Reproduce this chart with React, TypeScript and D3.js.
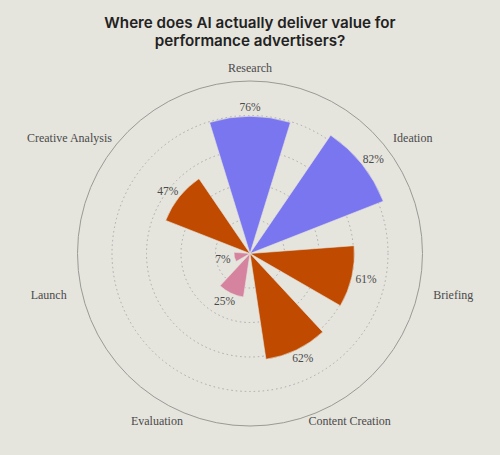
import { useEffect, useRef } from 'react'
import * as d3 from 'd3'

// categories clockwise from 12 o'clock
const categories = ['Research', 'Ideation', 'Briefing', 'Content Creation', 'Evaluation', 'Launch', 'Creative Analysis']
// radial length of each petal (percent)
const values = [79.5, 83, 60.5, 62, 25.5, 9.3, 52.5]
// printed value labels
const valueLabels = ['76%', '82%', '61%', '62%', '25%', '7%', '47%']
const groups = ['ai', 'ai', 'core', 'core', 'low', 'low', 'core']
const gridTicks = [20, 40, 60, 80]

const COLORS: Record<string, string> = { ai: '#7a76f0', core: '#bf4a00', low: '#d6839f' }
const BG = '#e5e4dd'

export default function App() {
  const ref = useRef<SVGSVGElement>(null)

  useEffect(() => {
    document.body.style.margin = '0'
    document.body.style.background = BG
    const svg = d3.select(ref.current!)
    svg.selectAll('*').remove()
    const W = 500, H = 455
    const cx = 250, cy = 253.5, R = 172.5
    const slot = (2 * Math.PI) / categories.length
    const r = d3.scaleLinear().domain([0, 100]).range([0, R])

    svg.append('rect').attr('width', W).attr('height', H).attr('fill', BG)

    // title
    const title = svg.append('text').attr('x', cx).attr('text-anchor', 'middle')
      .attr('font-family', 'Inter, sans-serif').attr('font-weight', 600).attr('font-size', 15.2).attr('fill', '#222')
    title.append('tspan').attr('x', cx).attr('y', 27.5).text('Where does AI actually deliver value for')
    title.append('tspan').attr('x', cx).attr('y', 45.5).text('performance advertisers?')

    const g = svg.append('g').attr('transform', `translate(${cx},${cy})`)

    // grid rings
    g.selectAll('circle.grid').data(gridTicks).join('circle').attr('class', 'grid')
      .attr('r', d => r(d)).attr('fill', 'none').attr('stroke', '#aaa').attr('stroke-width', 1)
      .attr('stroke-dasharray', '1.5,3')
    g.append('circle').attr('r', R).attr('fill', 'none').attr('stroke', '#9a9a96').attr('stroke-width', 1)

    // petals
    const arc = d3.arc<number>()
      .innerRadius(0)
      .outerRadius(d => r(values[d]))
      .startAngle(d => d * slot - slot / 3)
      .endAngle(d => d * slot + slot / 3)
    g.selectAll('path.petal').data(d3.range(categories.length)).join('path').attr('class', 'petal')
      .attr('d', d => arc(d))
      .attr('fill', d => COLORS[groups[d]])
      .attr('stroke', BG).attr('stroke-width', 0.6)

    // put a text outside a radius, pushed out by half its box
    function place(sel: d3.Selection<SVGTextElement, number, SVGGElement, unknown>, rx: (i: number) => number, ry: (i: number) => number, h: number) {
      sel.each(function (i) {
        const w = (this as SVGTextElement).getComputedTextLength()
        const a = i * slot
        d3.select(this)
          .attr('x', (rx(i) + w / 2) * Math.sin(a))
          .attr('y', -(ry(i) + h / 2) * Math.cos(a))
      })
    }

    const catText = g.selectAll<SVGTextElement, number>('text.cat').data(d3.range(categories.length)).join('text')
      .attr('class', 'cat').attr('text-anchor', 'middle').attr('dominant-baseline', 'central')
      .attr('font-family', '"Liberation Serif", serif').attr('font-size', 12).attr('fill', '#4a4a4a')
      .text(d => categories[d])
    place(catText, () => R + 16, () => R + 7, 12)

    const valText = g.selectAll<SVGTextElement, number>('text.val').data(d3.range(categories.length)).join('text')
      .attr('class', 'val').attr('text-anchor', 'middle').attr('dominant-baseline', 'central')
      .attr('font-family', '"Liberation Serif", serif').attr('font-size', 11.5).attr('fill', '#4a4a4a')
      .text(d => valueLabels[d])
    place(valText, i => r(values[i]) + 4, i => r(values[i]) + 4, 10)
  }, [])

  return <svg ref={ref} width={500} height={455} style={{ display: 'block' }} />
}
